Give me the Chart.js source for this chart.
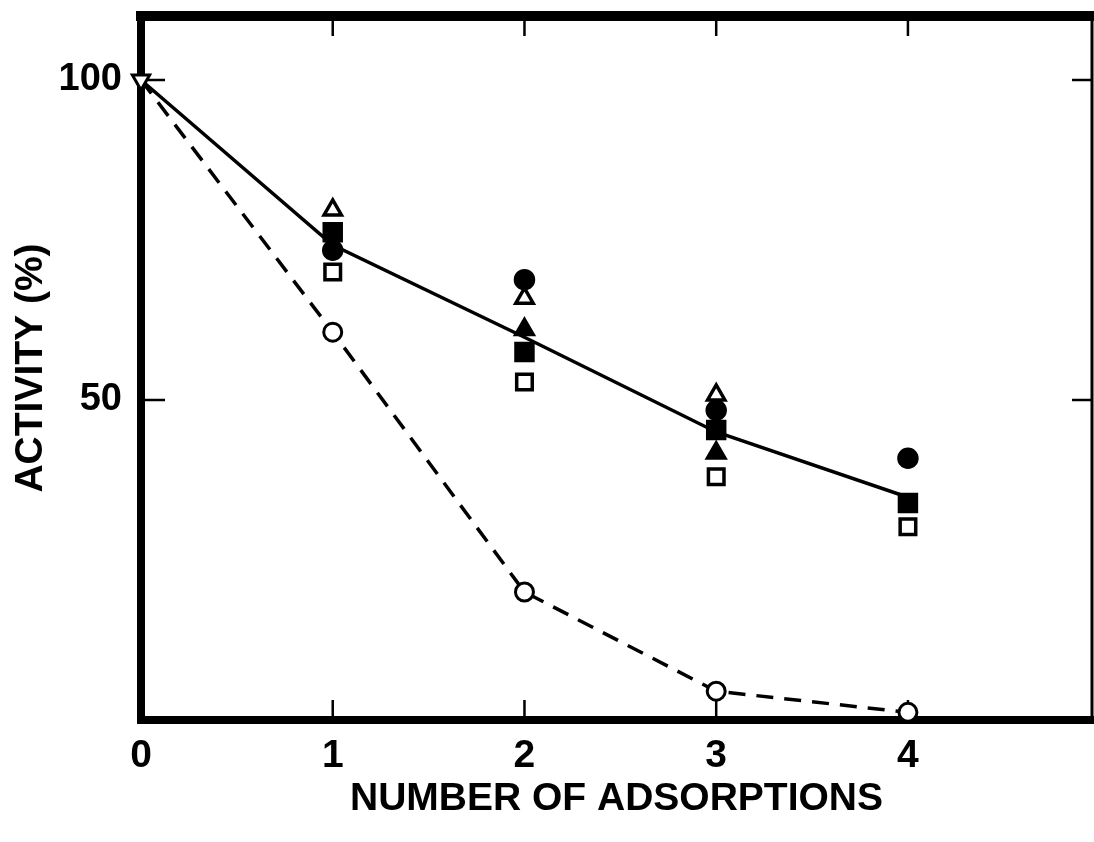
<!DOCTYPE html>
<html>
<head>
<meta charset="utf-8">
<script src="https://cdn.jsdelivr.net/npm/chart.js@4.4.1/dist/chart.umd.min.js"></script>
<style>
  html, body { margin: 0; padding: 0; background: #fff; overflow: hidden; }
  #wrap { width: 1094px; height: 842px; }
  canvas { display: block; }
</style>
</head>
<body>
<div id="wrap"><canvas id="chart" width="1094" height="842"></canvas></div>
<script>
// Data
const adsorptions = [0, 1, 2, 3, 4];
const meanLine = [100, 74.2, 59.8, 45.0, 34.8];       // solid line
const controlLine = [100, 60.6, 20.0, 4.5, 1.2];      // dashed line, open circles

const openTriX = [1, 2, 3];
const openTriY = [79.7, 65.9, 50.8];
const fillSqX = [1, 2, 3, 4];
const fillSqY = [76.2, 57.5, 45.3, 33.9];
const fillCircX = [1, 2, 3, 4];
const fillCircY = [73.4, 68.8, 48.4, 40.9];
const openSqX = [1, 2, 3, 4];
const openSqY = [70.0, 52.8, 38.0, 30.2];
const fillTriX = [2, 3];
const fillTriY = [61.0, 41.7];
const startX = [0];
const startY = [100];

const xTicks = [0, 1, 2, 3, 4];
const yTicks = [50, 100];

function pts(xs, ys) {
    return xs.map((x, i) => ({ x: x, y: ys[i] }));
}

// frame with inward tick marks, drawn under the markers
const framePlugin = {
    id: 'frame',
    beforeDatasetsDraw(chart) {
        const { ctx, chartArea: a, scales } = chart;
        ctx.save();
        ctx.strokeStyle = '#000';
        ctx.lineCap = 'square';
        ctx.lineWidth = 8;
        ctx.beginPath();
        ctx.moveTo(a.left, a.top);
        ctx.lineTo(a.left, a.bottom);
        ctx.lineTo(a.right, a.bottom);
        ctx.stroke();
        ctx.lineWidth = 10;
        ctx.beginPath();
        ctx.moveTo(a.left, a.top);
        ctx.lineTo(a.right, a.top);
        ctx.stroke();
        ctx.lineWidth = 3;
        ctx.beginPath();
        ctx.moveTo(a.right, a.top);
        ctx.lineTo(a.right, a.bottom);
        ctx.stroke();

        ctx.lineWidth = 2.5;
        ctx.lineCap = 'butt';
        xTicks.filter(v => v > 0).forEach(v => {
            const px = scales.x.getPixelForValue(v);
            ctx.beginPath();
            ctx.moveTo(px, a.bottom);
            ctx.lineTo(px, a.bottom - 20);
            ctx.moveTo(px, a.top);
            ctx.lineTo(px, a.top + 20);
            ctx.stroke();
        });
        yTicks.forEach(v => {
            const py = scales.y.getPixelForValue(v);
            ctx.beginPath();
            ctx.moveTo(a.left, py);
            ctx.lineTo(a.left + 24, py);
            ctx.moveTo(a.right, py);
            ctx.lineTo(a.right - 20, py);
            ctx.stroke();
        });
        ctx.restore();
    }
};

const marker = (label, data, style, fill, radius, extra) => Object.assign({
    label: label,
    data: data,
    showLine: false,
    pointStyle: style,
    pointRadius: radius,
    pointHoverRadius: radius,
    pointBackgroundColor: fill,
    pointBorderColor: '#000',
    pointBorderWidth: 3.5,
    clip: false
}, extra || {});

const noPad = s => {
    s.paddingTop = 0;
    s.paddingBottom = 0;
    s.paddingLeft = 0;
    s.paddingRight = 0;
};

new Chart(document.getElementById('chart'), {
    type: 'scatter',
    data: {
        datasets: [
            {
                label: 'mean',
                data: pts(adsorptions, meanLine),
                showLine: true,
                borderColor: '#000',
                borderWidth: 3.5,
                pointRadius: 0,
                clip: false
            },
            {
                label: 'control',
                data: pts(adsorptions, controlLine),
                showLine: true,
                borderColor: '#000',
                borderWidth: 3.5,
                borderDash: [17, 11],
                pointStyle: 'circle',
                // no circle at the shared starting point
                pointRadius: ctx => (ctx.dataIndex === 0 ? 0 : 9),
                pointBackgroundColor: '#fff',
                pointBorderColor: '#000',
                pointBorderWidth: 3,
                clip: false
            },
            marker('open triangle', pts(openTriX, openTriY), 'triangle', '#fff', 10),
            marker('filled square', pts(fillSqX, fillSqY), 'rect', '#000', 12),
            marker('filled circle', pts(fillCircX, fillCircY), 'circle', '#000', 9),
            marker('open square', pts(openSqX, openSqY), 'rect', '#fff', 11),
            marker('filled triangle', pts(fillTriX, fillTriY), 'triangle', '#000', 10),
            marker('start', pts(startX, startY), 'triangle', '#fff', 10, { rotation: 180, pointBorderWidth: 3, order: -1 })
        ]
    },
    options: {
        responsive: false,
        animation: false,
        layout: { autoPadding: false, padding: { top: 16, right: 2, left: 0, bottom: 0 } },
        plugins: {
            legend: { display: false },
            tooltip: { enabled: false }
        },
        scales: {
            x: {
                type: 'linear',
                min: 0,
                max: 4.96,
                grid: { display: false, drawTicks: false },
                border: { display: false },
                afterFit: s => { s.height = 122; noPad(s); },
                afterBuildTicks: s => { s.ticks = xTicks.map(v => ({ value: v })); },
                ticks: {
                    padding: 13,
                    color: '#000',
                    font: { family: '"Liberation Sans", Arial', size: 39, weight: 'bold' }
                },
                title: {
                    display: true,
                    text: 'NUMBER OF ADSORPTIONS',
                    color: '#000',
                    padding: { top: 0, bottom: 19 },
                    font: { family: '"Liberation Sans", Arial', size: 39, weight: 'bold' }
                }
            },
            y: {
                type: 'linear',
                min: 0,
                max: 110,
                grid: { display: false, drawTicks: false },
                border: { display: false },
                afterFit: s => { s.width = 141; noPad(s); },
                afterBuildTicks: s => { s.ticks = yTicks.map(v => ({ value: v })); },
                ticks: {
                    padding: 19,
                    color: '#000',
                    font: { family: '"Liberation Sans", Arial', size: 38, weight: 'bold' }
                },
                title: {
                    display: true,
                    text: 'ACTIVITY (%)',
                    color: '#000',
                    padding: { top: 8, bottom: 0 },
                    font: { family: '"Liberation Sans", Arial', size: 39, weight: 'bold' }
                }
            }
        }
    },
    plugins: [framePlugin]
});
</script>
</body>
</html>
